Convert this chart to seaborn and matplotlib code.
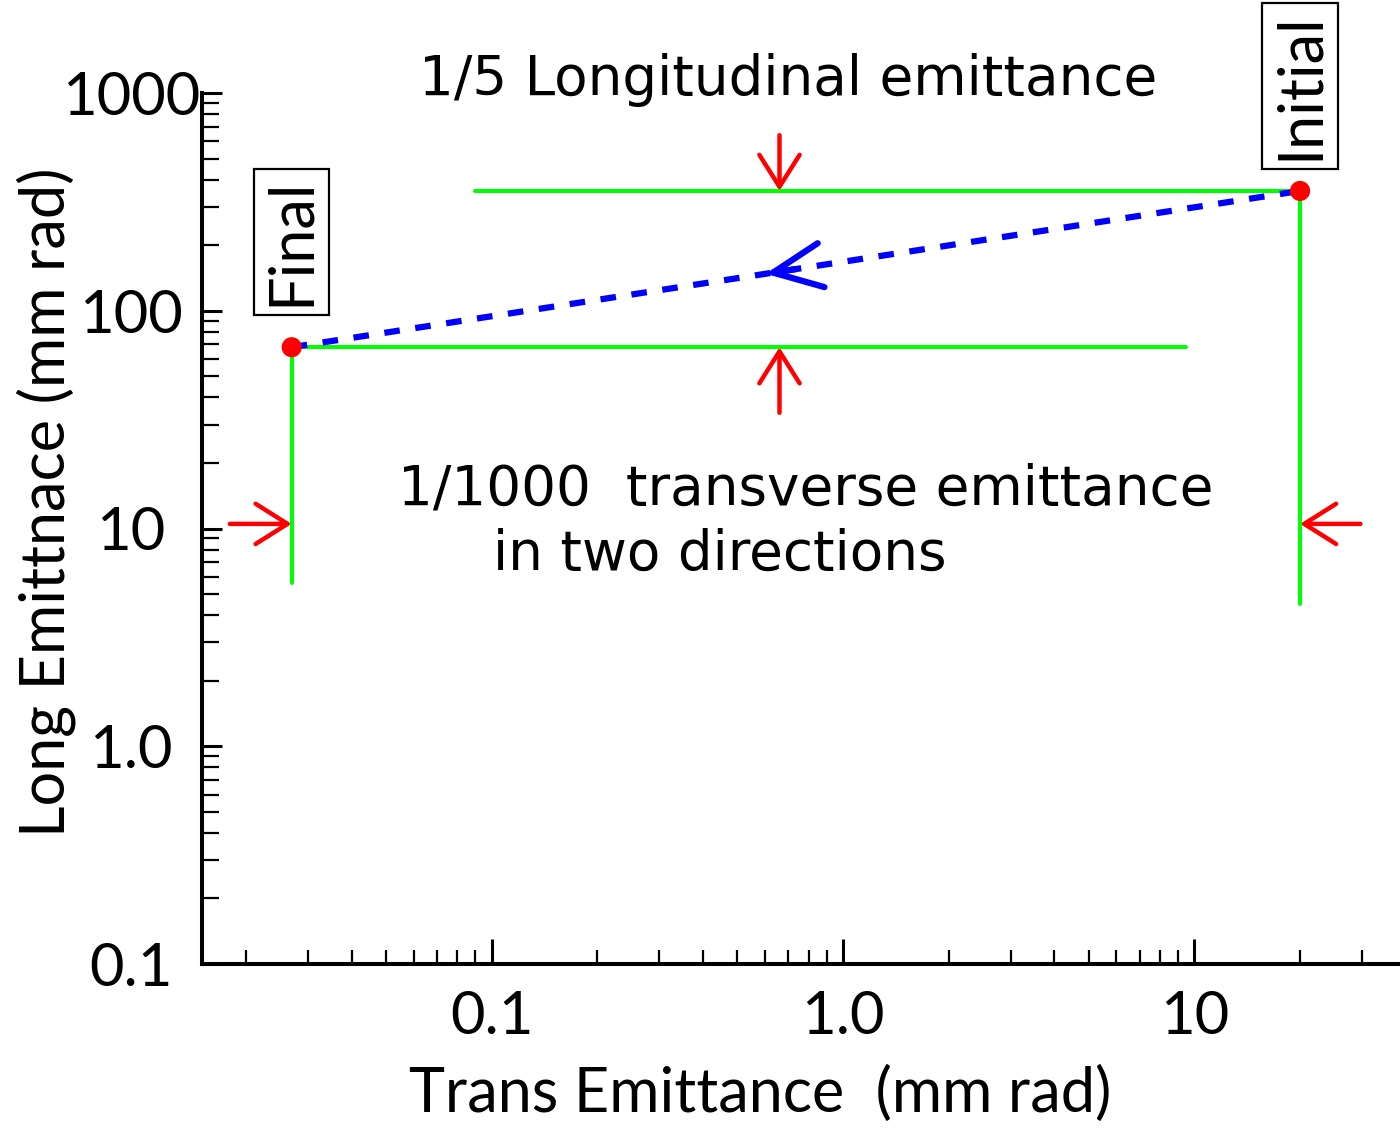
import numpy as np
import pandas as pd
import matplotlib
matplotlib.use("Agg")
import matplotlib.pyplot as plt
import seaborn as sns
from matplotlib.ticker import FixedLocator, FixedFormatter, LogLocator, NullFormatter

# ---------------- data ----------------
stage_labels = ["Final", "Initial"]
trans_emit = [0.027, 20.0]      # mm rad
long_emit = [68.0, 355.0]       # mm rad

# green guide lines (x pair, y pair)
top_line_x = [0.09, 20.0]
top_line_y = [355.0, 355.0]
bottom_line_x = [0.027, 9.5]
bottom_line_y = [68.0, 68.0]
left_line_x = [0.027, 0.027]
left_line_y = [68.0, 5.6]
right_line_x = [20.0, 20.0]
right_line_y = [355.0, 4.5]

# red arrows: longitudinal (vertical) and transverse (horizontal)
long_arrow_x = 0.66
long_arrow_tails = [640.0, 34.0]
long_arrow_tips = [355.0, 68.0]
trans_arrow_y = 10.5
trans_arrow_tails = [0.018, 29.7]
trans_arrow_tips = [0.027, 20.0]

xtick_values = [0.1, 1.0, 10.0]
xtick_labels = ["0.1", "1.0", "10"]
ytick_values = [0.1, 1.0, 10.0, 100.0, 1000.0]
ytick_labels = ["0.1", "1.0", "10", "100", "1000"]

label_box_y = [207.0, 1080.0]

title_text = "1/5 Longitudinal emittance"
trans_text1 = "1/1000  transverse emittance"
trans_text2 = "in two directions"

# ---------------- style ----------------
sns.set_theme(style="white")
plt.rcParams["font.family"] = ["Lato", "DejaVu Sans"]

W, H = 1400, 1131
fig = plt.figure(figsize=(W / 100, H / 100), dpi=100)
ax = fig.add_axes([202 / W, 167 / H, 1198 / W, 871 / H])
ax.set_xscale("log")
ax.set_yscale("log")
ax.set_xlim(0.015, 38.5)
ax.set_ylim(0.1, 1000)

GREEN = "#00ff00"
RED = "#ff0000"
BLUE = "#0000ff"

# green guide lines
for xs, ys in [(top_line_x, top_line_y), (bottom_line_x, bottom_line_y),
               (left_line_x, left_line_y), (right_line_x, right_line_y)]:
    sns.lineplot(x=xs, y=ys, ax=ax, color=GREEN, linewidth=2.9, sort=False,
                 estimator=None, zorder=2)

# blue dashed path
df = pd.DataFrame({"trans": trans_emit, "long": long_emit, "stage": stage_labels})
sns.lineplot(data=df, x="trans", y="long", ax=ax, color=BLUE, linewidth=4.5,
             sort=False, estimator=None, zorder=3)
ax.lines[-1].set_linestyle((0, (2.5, 2.5)))
ax.lines[-1].set_dash_capstyle("butt")

# arrowhead on blue path (in log space along the path)
lx = np.log10(trans_emit)
ly = np.log10(long_emit)
t_tip, t_tail = 0.47, 0.50
tip = (10 ** (lx[0] + t_tip * (lx[1] - lx[0])), 10 ** (ly[0] + t_tip * (ly[1] - ly[0])))
tail = (10 ** (lx[0] + t_tail * (lx[1] - lx[0])), 10 ** (ly[0] + t_tail * (ly[1] - ly[0])))
ax.annotate("", xy=tip, xytext=tail,
            arrowprops=dict(arrowstyle="->,head_length=3.5,head_width=1.6",
                            mutation_scale=10, color=BLUE, lw=4.5,
                            shrinkA=0, shrinkB=0), zorder=4)

# red arrows
red_style = dict(arrowstyle="->,head_length=2.3,head_width=1.45", mutation_scale=10,
                 color=RED, lw=3.2, shrinkA=0, shrinkB=0)
for yt, yh in zip(long_arrow_tails, long_arrow_tips):
    ax.annotate("", xy=(long_arrow_x, yh), xytext=(long_arrow_x, yt), arrowprops=red_style,
                zorder=5)
for xt, xh in zip(trans_arrow_tails, trans_arrow_tips):
    ax.annotate("", xy=(xh, trans_arrow_y), xytext=(xt, trans_arrow_y), arrowprops=red_style,
                zorder=5, annotation_clip=False)

# red points
sns.scatterplot(data=df, x="trans", y="long", ax=ax, color=RED, s=210,
                edgecolor="none", zorder=6, legend=False)

# Final / Initial boxed labels
for lab, xv, yv in zip(stage_labels, trans_emit, label_box_y):
    ax.text(xv, yv, lab, rotation=90, ha="center", va="center", fontsize=44,
            family=["Lato", "DejaVu Sans"], color="black", clip_on=False, zorder=7,
            bbox=dict(boxstyle="square,pad=0.15", fc="white", ec="black", lw=1.6))

# annotation texts
dv = ["DejaVu Sans"]
ax.text(0.181, 0.9977, title_text, transform=ax.transAxes, ha="left", va="baseline",
        fontsize=39.5, family=dv, color="black", clip_on=False)
ax.text(0.164, 0.527, trans_text1, transform=ax.transAxes, ha="left", va="baseline",
        fontsize=39.5, family=dv, color="black")
ax.text(0.243, 0.4524, trans_text2, transform=ax.transAxes, ha="left", va="baseline",
        fontsize=39.5, family=dv, color="black")

# axes styling
for s in ["top", "right"]:
    ax.spines[s].set_visible(False)
for s in ["left", "bottom"]:
    ax.spines[s].set_color("black")
    ax.spines[s].set_linewidth(2.9)

ax.xaxis.set_major_locator(FixedLocator(xtick_values))
ax.xaxis.set_major_formatter(FixedFormatter(xtick_labels))
ax.xaxis.set_minor_locator(LogLocator(base=10, subs=np.arange(2, 10), numticks=20))
ax.xaxis.set_minor_formatter(NullFormatter())
ax.yaxis.set_major_locator(FixedLocator(ytick_values))
ax.yaxis.set_major_formatter(FixedFormatter(ytick_labels))
ax.yaxis.set_minor_locator(LogLocator(base=10, subs=np.arange(2, 10), numticks=20))
ax.yaxis.set_minor_formatter(NullFormatter())

ax.tick_params(axis="x", which="major", direction="in", length=18, width=2.2,
               color="black", labelcolor="black", labelsize=43, pad=19,
               bottom=True, top=False)
ax.tick_params(axis="x", which="minor", direction="in", length=10, width=1.6,
               color="black", bottom=True, top=False)
ax.tick_params(axis="y", which="major", direction="in", length=14.4, width=2.2,
               color="black", labelcolor="black", labelsize=43, pad=51,
               left=True, right=False)
ax.tick_params(axis="y", which="minor", direction="in", length=12, width=1.6,
               color="black", left=True, right=False)
for lbl in ax.get_yticklabels():
    lbl.set_horizontalalignment("center")

ax.set_xlabel("Trans Emittance  (mm rad)", fontsize=44, color="black")
ax.set_ylabel("Long Emittnace (mm rad)", fontsize=44, color="black")
ax.xaxis.set_label_coords(0.466, -0.117)
ax.yaxis.set_label_coords(-0.105, 0.530)

fig.savefig("out.png", dpi=100, facecolor="white")
